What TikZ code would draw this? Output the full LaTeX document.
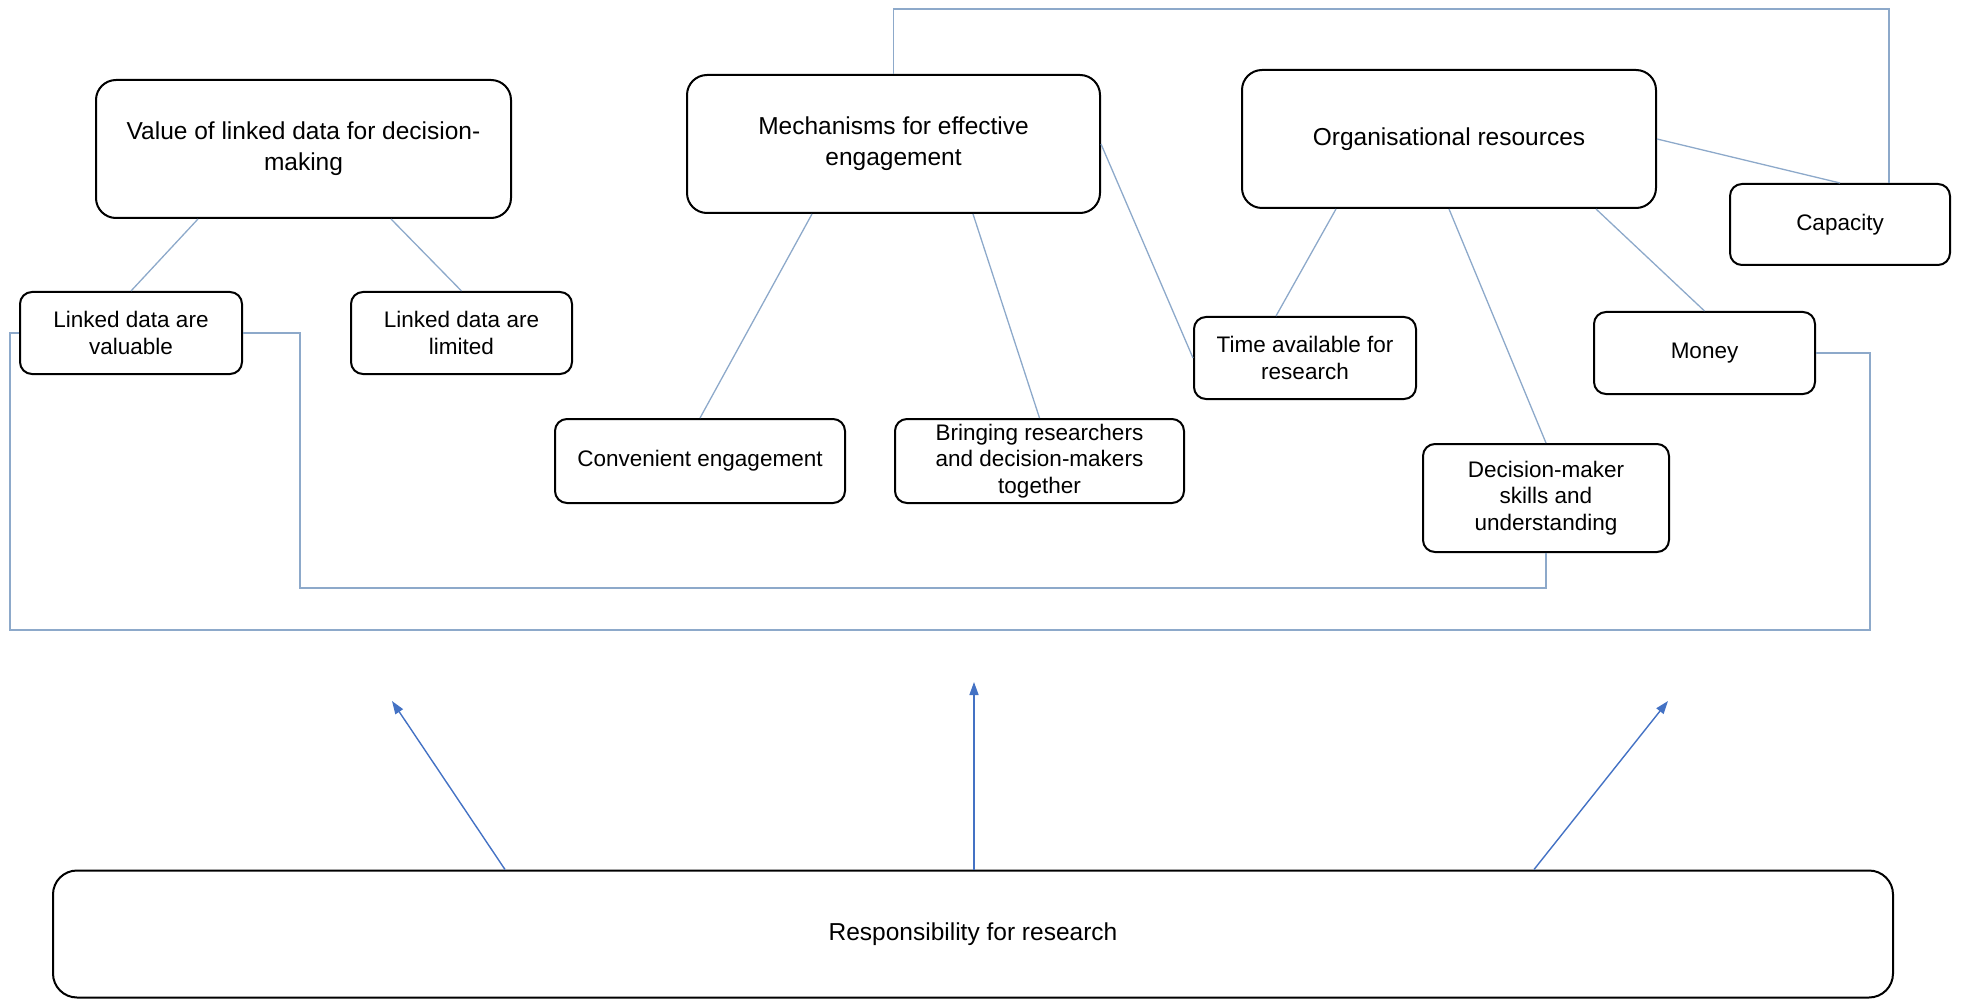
\documentclass[tikz,border=0pt]{standalone}
\usepackage{fontspec}
\setmainfont{Liberation Sans}
\usetikzlibrary{arrows.meta}
\definecolor{linkblue}{HTML}{8DA9CA}
\definecolor{arrowblue}{HTML}{4472C4}
\tikzset{
  bigbox/.style={draw=black, line width=2pt, rounded corners=20pt, align=center,
    font=\fontsize{24.5}{31}\selectfont, inner sep=0pt},
  smallbox/.style={draw=black, line width=2pt, rounded corners=12pt, align=center,
    font=\fontsize{22.5}{26.5}\selectfont, inner sep=0pt},
  link/.style={draw=linkblue, line width=1.3pt},
  influence/.style={draw=arrowblue, line width=1.4pt, -{Triangle[length=13pt,width=9pt]}}
}
\begin{document}
\begin{tikzpicture}[x=1pt,y=-1pt]
\useasboundingbox (0,0) rectangle (1963,1000);

% themes
\node[bigbox, minimum width=415pt, minimum height=138pt] (value) at (303.5,149)
  {Value of linked data for decision-\\making};
\node[bigbox, minimum width=413pt, minimum height=138pt] (mech) at (893.5,144)
  {Mechanisms for effective\\engagement};
\node[bigbox, minimum width=414pt, minimum height=138pt] (org) at (1449,139)
  {Organisational resources};

% sub-themes
\node[smallbox, minimum width=220pt, minimum height=81pt] (capacity) at (1840,224.5) {Capacity};
\node[smallbox, minimum width=222pt, minimum height=82pt] (valuable) at (131,333) {Linked data are\\valuable};
\node[smallbox, minimum width=221pt, minimum height=82pt] (limited) at (461.5,333) {Linked data are\\limited};
\node[smallbox, minimum width=222pt, minimum height=82pt] (time) at (1305,358) {Time available for\\research};
\node[smallbox, minimum width=221pt, minimum height=82pt] (money) at (1704.5,353) {Money};
\node[smallbox, minimum width=290pt, minimum height=84pt] (convenient) at (700,461) {Convenient engagement};
\node[smallbox, minimum width=289pt, minimum height=84pt] (bringing) at (1039.5,461)
  {Bringing researchers\\and decision-makers\\together};
\node[smallbox, minimum width=246pt, minimum height=108pt] (skills) at (1546,498)
  {Decision-maker\\skills and\\understanding};

% overarching theme
\node[bigbox, rounded corners=24pt, minimum width=1840pt, minimum height=127pt] (resp) at (973,934)
  {Responsibility for research};

% theme to sub-theme links
\draw[link] ([xshift=-105.5pt]value.south) -- (valuable.north);
\draw[link] ([xshift=87.5pt]value.south) -- (limited.north);
\draw[link] ([xshift=-81.5pt]mech.south) -- (convenient.north);
\draw[link] ([xshift=79.5pt]mech.south) -- (bringing.north);
\draw[link] (mech.east) -- (time.west);
\draw[link] ([xshift=-113pt]org.south) -- ([xshift=-29pt]time.north);
\draw[link] (org.south) -- (skills.north);
\draw[link] ([xshift=147pt]org.south) -- (money.north);
\draw[link] (org.east) -- (capacity.north);

% cross links
\draw[link] (mech.north) -- (mech.north |- 0,9) -| ([xshift=49pt]capacity.north);
\draw[link] (valuable.east) -| (300,588) -| (skills.south);
\draw[link] (valuable.west) -| (10,630) -| ([xshift=54pt]money.east) -- (money.east);

% influence arrows
\coordinate (tipA) at (392,701);
\coordinate (tipB) at (974,682);
\coordinate (tipC) at (1668,701);
\draw[influence] ([xshift=-468pt]resp.north) -- (tipA);
\draw[influence] ([xshift=1pt]resp.north) -- (tipB);
\draw[influence] ([xshift=561pt]resp.north) -- (tipC);
\end{tikzpicture}
\end{document}
